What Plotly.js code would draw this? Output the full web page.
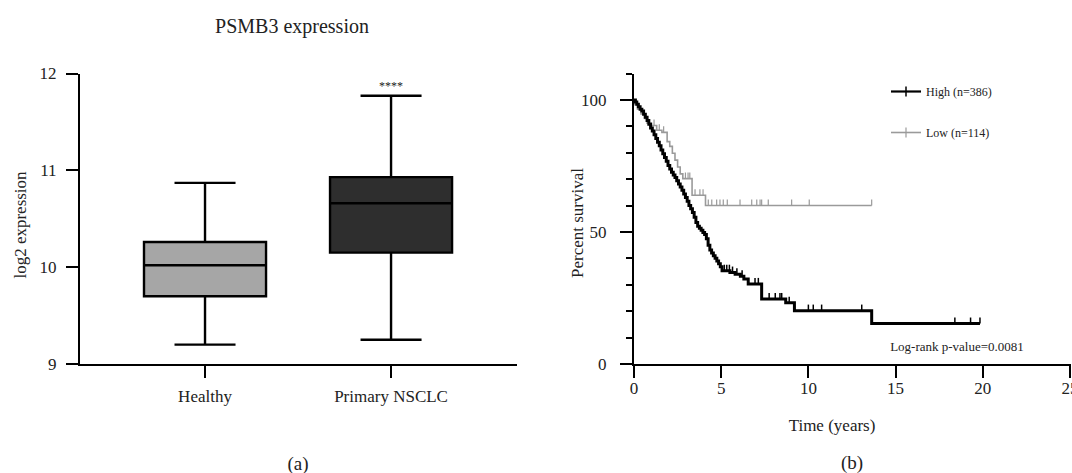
<!DOCTYPE html>
<html>
<head>
<meta charset="utf-8">
<script src="https://cdn.plot.ly/plotly-3.0.1.min.js"></script>
<style>
html,body{margin:0;padding:0;background:#fff;}
#wrap{position:relative;width:1072px;height:473px;overflow:hidden;}
#chart{position:absolute;left:0;top:0;width:1072px;height:473px;}
.lbl{position:absolute;white-space:nowrap;line-height:1;color:#222;font-family:'Liberation Serif','Times New Roman',serif;pointer-events:none;}
</style>
</head>
<body>
<div id="wrap"><div id="chart"></div></div>
<script>
// ---- Panel (a): box plot summary values (log2 expression) ----
const boxCategories = ['Healthy', 'Primary NSCLC'];
const boxLowerFence = [9.20, 9.25];
const boxQ1 = [9.70, 10.15];
const boxMedian = [10.02, 10.66];
const boxQ3 = [10.26, 10.93];
const boxUpperFence = [10.87, 11.77];
const significanceLabel = '****';

// ---- Panel (b): Kaplan-Meier curves (time in years, percent survival) ----
const highTime = [0, 0.08, 0.16, 0.25, 0.35, 0.45, 0.55, 0.65, 0.75, 0.85, 0.95, 1.05, 1.15, 1.25, 1.35, 1.45, 1.55, 1.65, 1.75, 1.85, 1.95, 2.05, 2.15, 2.25, 2.35, 2.45, 2.55, 2.65, 2.75, 2.85, 2.95, 3.05, 3.15, 3.25, 3.35, 3.45, 3.55, 3.65, 3.75, 3.85, 3.95, 4.05, 4.15, 4.25, 4.35, 4.45, 4.55, 4.65, 4.75, 4.85, 4.95, 5.05, 5.5, 5.8, 6.1, 6.3, 6.55, 7.32, 8.7, 9.2, 13.63, 19.84];
const highSurvival = [100, 99.2, 98.4, 97.4, 96.5, 95.8, 94.6, 93.4, 92.2, 90.8, 89.4, 88.2, 86.8, 85.4, 84, 82.6, 81, 79.6, 78.2, 76.8, 75.2, 73.8, 72.6, 71.6, 70.6, 69.4, 68.2, 67, 65.8, 64.4, 63, 61.6, 60, 58.8, 57.4, 55.6, 53.6, 52.2, 51.4, 50.6, 49.8, 49, 47.4, 45, 43.2, 42, 41, 40, 39, 38, 36.8, 35.3, 34.6, 34, 33.2, 32.2, 30.3, 24.6, 23.2, 20.2, 15.3, 15.3];
const highCensorTime = [5.18, 5.32, 5.47, 5.65, 5.9, 6.2, 6.94, 7.13, 7.75, 8.1, 8.37, 8.47, 8.9, 10.0, 10.28, 10.76, 13.06, 18.4, 19.3, 19.84];
const highCensorSurvival = [35.3, 35.3, 35.3, 34.6, 34, 33.2, 30.3, 30.3, 24.6, 24.6, 24.6, 24.6, 23.2, 20.2, 20.2, 20.2, 20.2, 15.3, 15.3, 15.3];

const lowTime = [0, 0.05, 0.2, 0.4, 0.6, 0.75, 1.0, 1.3, 1.6, 1.9, 2.05, 2.2, 2.35, 2.5, 2.65, 2.8, 3.33, 4.1, 13.63];
const lowSurvival = [100, 98.2, 96.5, 94.7, 93.0, 91.2, 90.3, 88.5, 87.7, 84.2, 82.4, 79.8, 77.2, 74.6, 72.0, 70.2, 63.9, 60.0, 60.0];
const lowCensorTime = [1.15, 1.45, 1.7, 2.95, 3.1, 3.2, 3.5, 3.78, 3.96, 4.26, 4.46, 4.74, 4.93, 5.12, 5.35, 6.08, 6.75, 7.04, 7.23, 7.32, 7.7, 9.04, 10.05, 13.63];
const lowCensorSurvival = [90.3, 88.5, 87.7, 70.2, 70.2, 70.2, 63.9, 63.9, 63.9, 60, 60, 60, 60, 60, 60, 60, 60, 60, 60, 60, 60, 60, 60, 60];

const legendNames = ['High (n=386)', 'Low (n=114)'];
const pValueText = 'Log-rank p-value=0.0081';
const chartTitle = 'PSMB3 expression';
const yTitleA = 'log2 expression';
const yTitleB = 'Percent survival';
const xTitleB = 'Time (years)';
const panelLabels = ['(a)', '(b)'];

// ---- styling ----
const W = 1072, H = 473;
const FONT = 'Liberation Serif, Times New Roman, serif';
const TXT = '#222';
const px = v => v / W;
const py = v => 1 - v / H;

const boxFills = ['#a6a6a6', '#2e2e2e'];
const boxTraces = boxCategories.map((c, i) => ({
  type: 'box', x: [c],
  q1: [boxQ1[i]], median: [boxMedian[i]], q3: [boxQ3[i]],
  lowerfence: [boxLowerFence[i]], upperfence: [boxUpperFence[i]],
  fillcolor: boxFills[i],
  line: {color: '#000', width: 2.4},
  width: 0.656, whiskerwidth: 0.5,
  showlegend: false, hoverinfo: 'skip', xaxis: 'x', yaxis: 'y'
}));

const highColor = '#000', lowColor = '#9a9a9a';
const kmTraces = [
  {type: 'scatter', mode: 'lines', x: lowTime, y: lowSurvival, line: {shape: 'hv', color: lowColor, width: 1.6},
   showlegend: false, xaxis: 'x2', yaxis: 'y2', hoverinfo: 'skip'},
  {type: 'scatter', mode: 'markers', x: lowCensorTime, y: lowCensorSurvival, marker: {size: 2, opacity: 0, color: lowColor},
   error_y: {type: 'constant', symmetric: false, value: 2.3, valueminus: 0, width: 0, thickness: 1.2, color: lowColor},
   showlegend: false, xaxis: 'x2', yaxis: 'y2', hoverinfo: 'skip'},
  {type: 'scatter', mode: 'lines', x: highTime, y: highSurvival, line: {shape: 'hv', color: highColor, width: 3},
   showlegend: false, xaxis: 'x2', yaxis: 'y2', hoverinfo: 'skip'},
  {type: 'scatter', mode: 'markers', x: highCensorTime, y: highCensorSurvival, marker: {size: 2, opacity: 0, color: highColor},
   error_y: {type: 'constant', symmetric: false, value: 2.3, valueminus: 0, width: 0, thickness: 1.5, color: highColor},
   showlegend: false, xaxis: 'x2', yaxis: 'y2', hoverinfo: 'skip'},
  // legend entries
  {type: 'scatter', mode: 'lines+markers', x: [null], y: [null], name: legendNames[0], legendgroup: 'high',
   line: {color: highColor, width: 2.2}, marker: {symbol: 'line-ns-open', size: 7, line: {color: highColor, width: 1.5}},
   xaxis: 'x2', yaxis: 'y2'},
  {type: 'scatter', mode: 'lines+markers', x: [null], y: [null], name: legendNames[1], legendgroup: 'low',
   line: {color: lowColor, width: 1.6}, marker: {symbol: 'line-ns-open', size: 7, line: {color: lowColor, width: 1.2}},
   xaxis: 'x2', yaxis: 'y2'}
];

const yDom = [py(364), py(73.5)];
const axisCommon = {
  showline: true, linecolor: '#000', linewidth: 2, showgrid: false, zeroline: false,
  ticks: 'outside', ticklen: 12, tickwidth: 2, tickcolor: '#000',
  tickfont: {family: FONT, size: 17, color: TXT}
};

const layout = {
  width: W, height: H,
  margin: {l: 0, r: 0, t: 0, b: 0},
  paper_bgcolor: '#fff', plot_bgcolor: '#fff',
  boxmode: 'overlay',
  font: {family: FONT, color: TXT},
  xaxis: Object.assign({}, axisCommon, {
    domain: [px(80), px(517)], type: 'category', range: [-0.672, 1.677], ticklabelstandoff: 4, anchor: 'y'
  }),
  yaxis: Object.assign({}, axisCommon, {
    domain: yDom, range: [9, 12], dtick: 1, tick0: 9, ticklabelstandoff: 6, anchor: 'x'
  }),
  xaxis2: Object.assign({}, axisCommon, {
    domain: [px(634), px(1071)], range: [0, 25.06], dtick: 5, tick0: 0, anchor: 'y2',
    ticklabelstandoff: -4, ticklabeloverflow: 'allow'
  }),
  yaxis2: Object.assign({}, axisCommon, {
    domain: yDom, range: [0, 110], dtick: 50, tick0: 0, anchor: 'x2', ticklabelstandoff: 10,
    minor: {dtick: 10, ticks: 'outside', ticklen: 6, tickwidth: 2, tickcolor: '#000'}
  }),
  showlegend: true,
  legend: {
    x: px(886), y: py(77), xanchor: 'left', yanchor: 'top',
    bgcolor: 'rgba(0,0,0,0)', font: {family: FONT, size: 12, color: TXT},
    traceorder: 'grouped', tracegroupgap: 22, itemwidth: 30
  }
};

// text labels: [text, centre x px, centre y px, font size, rotated]
const labelList = [
  [chartTitle, 292, 26, 20, false],
  [significanceLabel, 391, 86, 12, false],
  [yTitleA, 20, 225, 17, true],
  [yTitleB, 577, 223, 17, true],
  [xTitleB, 832, 425, 17, false],
  [pValueText, 957, 346, 13, false],
  [panelLabels[0], 298, 463, 19, false],
  [panelLabels[1], 852, 462, 19, false]
];

Plotly.newPlot('chart', boxTraces.concat(kmTraces), layout, {displayModeBar: false, staticPlot: true})
  .then(() => {
    const wrap = document.getElementById('wrap');
    labelList.forEach(([text, x, y, size, rot]) => {
      const d = document.createElement('div');
      d.className = 'lbl';
      d.textContent = text;
      d.style.left = x + 'px';
      d.style.top = y + 'px';
      d.style.fontSize = size + 'px';
      d.style.transform = 'translate(-50%,-50%)' + (rot ? ' rotate(-90deg)' : '');
      wrap.appendChild(d);
    });
  });
</script>
</body>
</html>
